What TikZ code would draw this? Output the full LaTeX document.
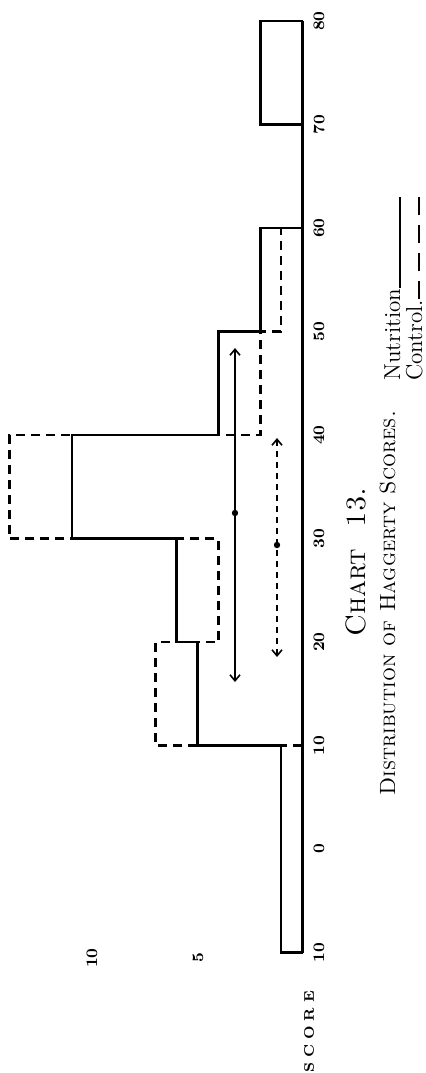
\documentclass[tikz,border=0pt]{standalone}
\usetikzlibrary{arrows.meta}
\begin{document}
\begin{tikzpicture}[x=0.5pt,y=-0.5pt,
  nut/.style={line width=1.35pt, line join=miter, line cap=rect},
  ctl/.style={line width=1.35pt, dash pattern=on 4.5pt off 3pt},
  meanarrow/.style={line width=0.8pt, {Straight Barb[length=3pt,width=5pt]}-{Straight Barb[length=3pt,width=5pt]}},
  ticklbl/.style={rotate=90, font=\footnotesize\bfseries, inner sep=0pt},
  legend/.style={rotate=90, anchor=base west, inner sep=0pt, font=\fontsize{11.5}{13}\selectfont}]
\useasboundingbox (0,0) rectangle (425,1073);

% axis (score scale)
\draw[line width=1.5pt] (302,952.5) -- (302,21);

% control distribution (dashed)
\draw[ctl] (302,745.5) -- (155.7,745.5) -- (155.7,642) -- (218.4,642) -- (218.4,538.5)
  -- (9.4,538.5) -- (9.4,435) -- (260.2,435) -- (260.2,331.5) -- (281.1,331.5)
  -- (281.1,228) -- (302,228);

% nutrition distribution (solid)
\draw[nut] (302,952.5) -- (281.1,952.5) -- (281.1,745.5) -- (197.5,745.5) -- (197.5,642)
  -- (176.6,642) -- (176.6,538.5) -- (72.1,538.5) -- (72.1,435) -- (218.4,435)
  -- (218.4,331.5) -- (260.2,331.5) -- (260.2,228) -- (302,228);
\draw[nut] (302,124.5) -- (260.2,124.5) -- (260.2,21) -- (302,21);

% means and ranges
\coordinate (na) at (235,348);
\coordinate (nb) at (235,682);
\coordinate (nm) at (235,513);
\draw[meanarrow] (nb) -- (na);
\fill (nm) circle (1.6pt);
\coordinate (ca) at (277,438);
\coordinate (cb) at (277,657);
\coordinate (cm) at (277,545);
\draw[meanarrow, dash pattern=on 3pt off 2.5pt] (cb) -- (ca);
\fill (cm) circle (1.6pt);

% score labels
\node[ticklbl] (s80) at (319,21) {80};
\node[ticklbl] (s70) at (319,124.5) {70};
\node[ticklbl] (s60) at (319,228) {60};
\node[ticklbl] (s50) at (319,331.5) {50};
\node[ticklbl] (s40) at (319,435) {40};
\node[ticklbl] (s30) at (319,538.5) {30};
\node[ticklbl] (s20) at (319,642) {20};
\node[ticklbl] (s10) at (319,745.5) {10};
\node[ticklbl] (s0) at (319,849) {0};
\node[ticklbl] (sm10) at (319,952.5) {10};

% frequency labels
\node[ticklbl] (f10) at (92,958) {10};
\node[ticklbl] (f5) at (198,958) {5};
\node[ticklbl, font=\scriptsize\bfseries] (score) at (309,1032) {S\hspace{2.5pt}C\hspace{2.5pt}O\hspace{2.5pt}R\hspace{2.5pt}E};

% titles
\node[rotate=90, inner sep=0pt, font=\fontsize{14}{16}\selectfont] (chart) at (356,562) {\textsc{Chart\ \ 13.}};
\node[legend, font=\fontsize{11}{13}\selectfont] (title) at (395,796) {\textsc{Distribution of Haggerty Scores.}};

% legend
\coordinate (ruleend) at (0,197);
\node[legend] (nlab) at (400,381) {Nutrition};
\draw[line width=0.6pt] (nlab.base east) -- (nlab.base east |- ruleend);
\node[legend] (clab) at (422,381) {Control.};
\draw[line width=0.6pt, dash pattern=on 9pt off 5pt] ([xshift=-1.5pt]clab.base east) -- ([xshift=-1.5pt]clab.base east |- ruleend);
\end{tikzpicture}
\end{document}
